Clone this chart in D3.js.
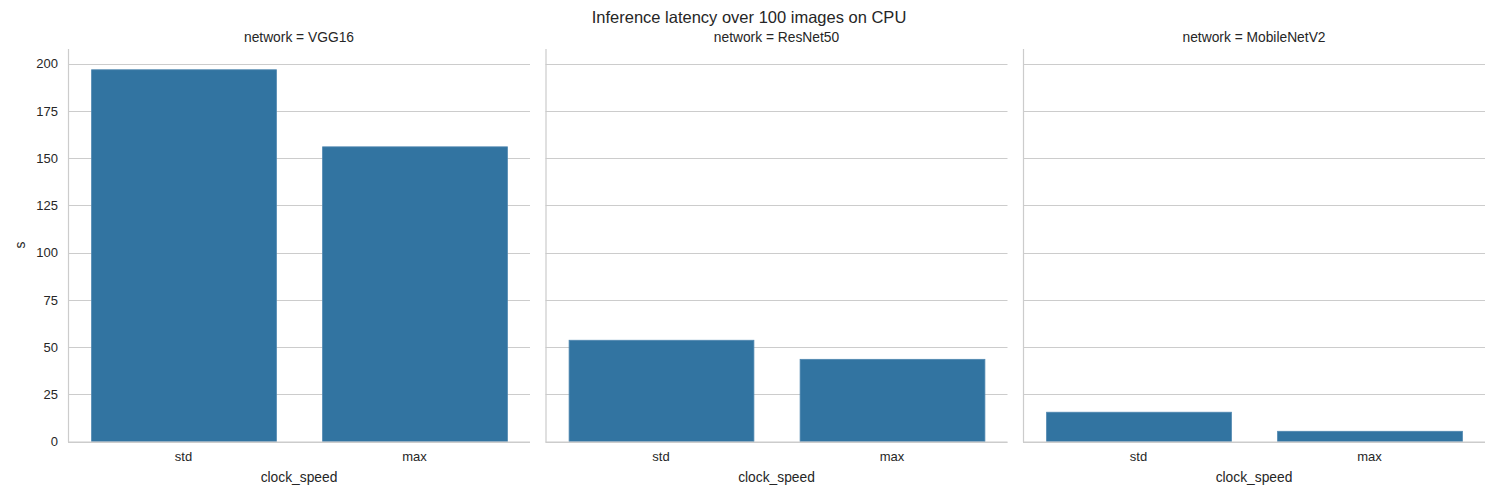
<!DOCTYPE html>
<html><head><meta charset="utf-8">
<script src="https://cdn.jsdelivr.net/npm/d3@7"></script>
<style>body{margin:0;background:#fff}svg{display:block;font-family:"Liberation Sans",Arial,sans-serif}</style>
</head><body><svg id="c" width="1500" height="500"></svg>
<script>
const networks = ["VGG16", "ResNet50", "MobileNetV2"];
const clockSpeeds = ["std", "max"];
const latencyStd = [196.8, 53.6, 15.5];
const latencyMax = [156.0, 43.5, 5.4];
const yTicks = [0, 25, 50, 75, 100, 125, 150, 175, 200];

(function () {
const svg = d3.select("#c");
const panelLeft = [68, 545.5, 1023];
const panelW = 462;
const plotTop = 49, plotBottom = 441.5;
const y = d3.scaleLinear().domain([0, 207.8]).range([plotBottom, plotTop]);
const grid = "#cccccc", txt = "#262626", bar = "#3274a1";

svg.append("text").attr("x", 749).attr("y", 22.5).attr("text-anchor", "middle")
  .attr("font-size", 16.5).attr("fill", txt).text("Inference latency over 100 images on CPU");

networks.forEach((net, i) => {
  const g = svg.append("g").attr("transform", `translate(${panelLeft[i]},0)`);
  const x = d3.scaleBand().domain(clockSpeeds).range([0, panelW]).paddingInner(0.2).paddingOuter(0.1);
  g.selectAll(".grid").data(yTicks).join("line")
    .attr("x1", 0).attr("x2", panelW)
    .attr("y1", d => Math.round(y(d)) + 0.5).attr("y2", d => Math.round(y(d)) + 0.5)
    .attr("stroke", grid).attr("stroke-width", 1);
  const vals = [latencyStd[i], latencyMax[i]];
  g.selectAll(".bar").data(clockSpeeds).join("rect")
    .attr("x", d => x(d) + 0.5).attr("width", x.bandwidth())
    .attr("y", (d, j) => y(vals[j])).attr("height", (d, j) => y(0) - y(vals[j]))
    .attr("fill", bar).attr("stroke", "#4f87b0").attr("stroke-width", 0.8);
  g.append("line").attr("x1", 0.5).attr("x2", 0.5).attr("y1", plotTop).attr("y2", plotBottom + 0.5).attr("stroke", grid).attr("stroke-width", 1.2);
  g.append("line").attr("x1", 0).attr("x2", panelW).attr("y1", plotBottom + 0.5).attr("y2", plotBottom + 0.5).attr("stroke", grid).attr("stroke-width", 1.2);
  const xa = g.append("g").attr("transform", `translate(0,${plotBottom})`).call(d3.axisBottom(x).tickSize(0).tickPadding(10));
  xa.select(".domain").remove();
  xa.selectAll("text").attr("font-size", 13).attr("fill", txt).attr("font-family", "Liberation Sans, Arial, sans-serif");
  g.append("text").attr("x", panelW / 2).attr("y", 482).attr("text-anchor", "middle")
    .attr("font-size", 13.8).attr("fill", txt).text("clock_speed");
  g.append("text").attr("x", panelW / 2).attr("y", 42).attr("text-anchor", "middle")
    .attr("font-size", 13.8).attr("fill", txt).text("network = " + net);
  if (i === 0) {
    const ya = g.append("g").call(d3.axisLeft(y).tickValues(yTicks).tickSize(0).tickPadding(10));
    ya.select(".domain").remove();
    ya.selectAll("text").attr("font-size", 13).attr("fill", txt).attr("font-family", "Liberation Sans, Arial, sans-serif");
  }
});
svg.append("text").attr("transform", "translate(25,245) rotate(-90)").attr("text-anchor", "middle")
  .attr("font-size", 13.8).attr("fill", txt).text("s");
})();
</script></body></html>
